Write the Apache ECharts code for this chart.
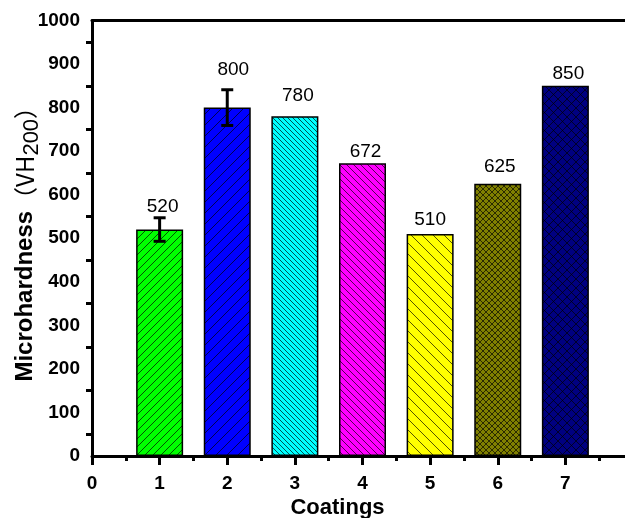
<!DOCTYPE html>
<html>
<head>
<meta charset="utf-8">
<script src="https://cdn.jsdelivr.net/npm/echarts@6/dist/echarts.min.js"></script>
<style>html,body{margin:0;padding:0;background:#fff}#c{width:625px;height:518px}</style>
</head>
<body>
<div id="c"></div>
<script>
// ---- data ----
var categories = [1, 2, 3, 4, 5, 6, 7];
var hardness = [520, 800, 780, 672, 510, 625, 850];
var errors = [27, 41, 0, 0, 0, 0, 0];

// ---- style ----
var fills = ['#00ff00', '#0000ff', '#00ffff', '#ff00ff', '#ffff00', '#808000', '#000080'];
var hatchDir = ['/', '/', '\\', '\\', '\\', 'x', 'x'];
var hatchGap = [8, 11, 5, 7, 11, 6, 9];
var labelDist = [13, 28, 11, 2, 5, 7.5, 3];
var labelDx = [3, 6, 3, 3, 0, 2, 3];

function hatch(bg, dir, s) {
  var c = document.createElement('canvas');
  c.width = s; c.height = s;
  var g = c.getContext('2d');
  g.fillStyle = bg; g.fillRect(0, 0, s, s);
  g.strokeStyle = 'rgba(0,0,0,0.75)';
  g.lineWidth = 0.9;
  g.beginPath();
  for (var k = -1; k <= 1; k++) {
    if (dir === '/' || dir === 'x') { g.moveTo(k * s, s); g.lineTo(k * s + s, 0); }
    if (dir === '\\' || dir === 'x') { g.moveTo(k * s, 0); g.lineTo(k * s + s, s); }
  }
  g.stroke();
  return { image: c, repeat: 'repeat' };
}

var barData = categories.map(function (c, i) {
  return {
    value: [c, hardness[i]],
    itemStyle: { color: hatch(fills[i], hatchDir[i], hatchGap[i]) },
    label: { distance: labelDist[i], offset: [labelDx[i], 0] }
  };
});
var errData = [];
categories.forEach(function (c, i) { if (errors[i] > 0) errData.push([c, hardness[i], errors[i]]); });

var FONT = '"Liberation Sans", Arial, sans-serif';
var chart = echarts.init(document.getElementById('c'));
chart.setOption({
  animation: false,
  backgroundColor: '#fff',
  grid: { left: 92, top: 20.5, bottom: 62, right: -8, show: false,
    containLabel: false, outerBoundsMode: 'none' },
  xAxis: [{
    type: 'value', min: 0, max: 8, interval: 1,
    name: 'Coatings', nameLocation: 'middle', nameGap: 41, nameMoveOverlap: false,
    nameTextStyle: { fontFamily: FONT, fontWeight: 'bold', fontSize: 22, color: '#000', padding: [0, 50, 0, 0] },
    axisLine: { show: true, lineStyle: { color: '#000', width: 3 } },
    axisTick: { show: true, length: 9, lineStyle: { color: '#000', width: 3 } },
    minorTick: { show: true, splitNumber: 2, length: 5, lineStyle: { color: '#000', width: 3 } },
    splitLine: { show: false }, minorSplitLine: { show: false },
    axisLabel: { fontFamily: FONT, fontWeight: 'bold', fontSize: 19, color: '#000', margin: 18,
      formatter: function (v) { return v > 7 ? '' : String(v); } }
  }, {
    type: 'value', position: 'top', min: 0, max: 8,
    axisLine: { show: true, lineStyle: { color: '#000', width: 3 } },
    axisTick: { show: false }, axisLabel: { show: false }, splitLine: { show: false }
  }],
  yAxis: {
    type: 'value', min: 0, max: 1000, interval: 100,
    name: '{b|Microhardness}{n|（VH}{s|200}{n|）}', nameLocation: 'middle', nameGap: 49, nameRotate: 90,
    nameMoveOverlap: false,
    nameTextStyle: {
      color: '#000', fontFamily: FONT, fontWeight: 'bold', fontSize: 24,
      rich: {
        b: { fontFamily: FONT, fontWeight: 'bold', fontSize: 24, color: '#000', verticalAlign: 'bottom', padding: [0, 0, 6, 0] },
        n: { fontFamily: '"Noto Sans CJK SC", ' + FONT, fontWeight: 'normal', fontSize: 24, color: '#000', verticalAlign: 'bottom', padding: [0, 0, 6, 0] },
        s: { fontFamily: FONT, fontWeight: 'normal', fontSize: 22, color: '#000', verticalAlign: 'bottom' }
      }
    },
    axisLine: { show: true, lineStyle: { color: '#000', width: 3 } },
    axisTick: { show: false },
    minorTick: { show: true, splitNumber: 2, length: 6, lineStyle: { color: '#000', width: 3 } },
    splitLine: { show: false }, minorSplitLine: { show: false },
    axisLabel: { fontFamily: FONT, fontWeight: 'bold', fontSize: 19, color: '#000', margin: 12,
      formatter: function (v) { return String(v); } }
  },
  series: [
    {
      type: 'bar', barWidth: 47, data: barData,
      itemStyle: { borderColor: '#000', borderWidth: 1.5 },
      label: { show: true, position: 'top', fontFamily: FONT, fontSize: 19, color: '#000',
        formatter: function (p) { return String(p.value[1]); } }
    },
    {
      type: 'custom', z: 5, data: errData,
      renderItem: function (params, api) {
        var x = api.value(0), y = api.value(1), e = api.value(2);
        var t = api.coord([x, y + e]), b = api.coord([x, y - e]);
        var st = { stroke: '#000', lineWidth: 3 };
        return { type: 'group', children: [
          { type: 'line', shape: { x1: t[0], y1: t[1], x2: b[0], y2: b[1] }, style: st },
          { type: 'line', shape: { x1: t[0] - 6, y1: t[1], x2: t[0] + 6, y2: t[1] }, style: st },
          { type: 'line', shape: { x1: b[0] - 6, y1: b[1], x2: b[0] + 6, y2: b[1] }, style: st }
        ] };
      }
    }
  ]
});
</script>
</body>
</html>
